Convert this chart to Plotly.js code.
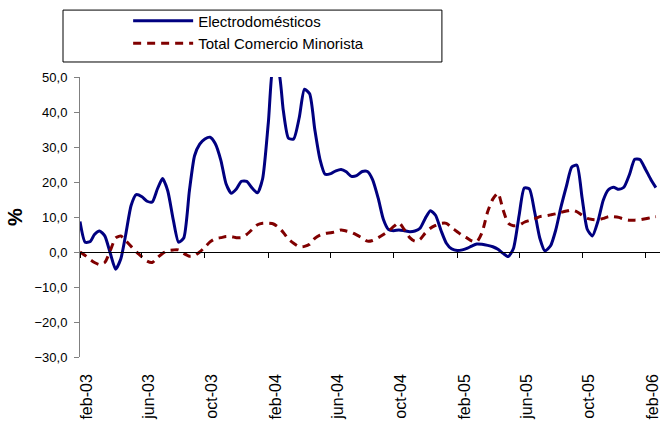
<!DOCTYPE html>
<html>
<head>
<meta charset="utf-8">
<script src="https://cdn.plot.ly/plotly-3.0.1.min.js"></script>
<style>
  html, body { margin: 0; padding: 0; background: #ffffff; }
  #chart { width: 661px; height: 421px; }
</style>
</head>
<body>
<div id="chart"></div>
<script>
// Year-on-year growth (%), sampled on the 1st, 11th and 21st of each month, Feb 2003 - Feb 2006
const sampleDays = [1, 11, 21];
const firstYear = 2003;
const firstMonth = 2;   // February
const sampleCount = 111;

const electrodomesticos = [
  8.7, 2.8, 3.0, 5.0, 6.0, 4.6, -0.5, -4.9, -2.0, 5.3,
  13.3, 16.4, 15.8, 14.5, 14.3, 18.0, 21.0, 17.5, 9.0, 2.8,
  4.0, 17.5, 27.5, 30.8, 32.3, 32.8, 31.0, 26.2, 19.5, 16.8,
  18.0, 20.2, 20.2, 18.2, 16.9, 21.0, 37.0, 53.0, 51.5, 40.4,
  32.5, 32.3, 38.5, 46.5, 45.2, 35.0, 26.5, 22.2, 22.4, 23.2,
  23.6, 22.9, 21.6, 21.8, 23.0, 23.0, 20.7, 15.3, 9.3, 6.4,
  6.1, 6.3, 6.1, 5.8, 6.0, 6.8, 9.6, 11.8, 10.5, 6.0,
  2.5, 0.9, 0.4, 0.6, 1.1, 1.7, 2.3, 2.2, 1.9, 1.5,
  0.8, -0.4, -1.3, 1.0, 10.5, 18.3, 18.0, 11.5, 4.0, 0.3,
  1.8, 6.3, 12.8, 19.0, 24.3, 24.8, 15.5, 6.5, 4.6, 8.9,
  14.8, 17.8, 18.5, 17.9, 18.5, 22.2, 26.5, 26.4, 23.6, 20.8,
  18.4
];

const totalComercioMinorista = [
  0.0, -1.0, -2.2, -3.0, -3.6, -3.0, 0.5, 4.0, 4.6, 3.2,
  1.6, 0.1, -1.4, -2.6, -3.0, -1.6, -0.4, 0.4, 0.6, 0.6,
  -0.4, -1.2, -1.0, 0.0, 1.4, 2.9, 3.8, 4.1, 4.4, 4.4,
  4.1, 4.1, 5.0, 6.5, 7.8, 8.2, 8.2, 8.0, 7.0, 5.6,
  3.7, 2.5, 1.5, 1.6, 2.2, 3.9, 4.8, 5.3, 5.5, 5.8,
  6.3, 6.0, 5.6, 4.9, 4.0, 3.1, 3.3, 4.1, 5.0, 6.0,
  7.3, 8.4, 6.5, 4.1, 3.1, 3.6, 5.4, 6.8, 7.6, 8.2,
  8.2, 7.0, 5.8, 4.7, 3.9, 3.2, 2.9, 5.5, 11.5, 15.1,
  16.8, 12.0, 8.2, 7.5, 7.7, 8.5, 9.0, 9.5, 10.1, 10.3,
  10.6, 10.9, 11.3, 11.7, 12.0, 11.5, 10.5, 9.6, 9.3, 9.2,
  9.6, 10.1, 10.1, 9.9, 9.4, 9.1, 9.1, 9.2, 9.5, 9.8,
  10.1
];

// Axis: tick marks every four months, labels in the middle of the month
const tickDates = ['2003-02-01', '2003-06-01', '2003-10-01', '2004-02-01', '2004-06-01',
                   '2004-10-01', '2005-02-01', '2005-06-01', '2005-10-01', '2006-02-01'];
const labelDates = ['2003-02-15', '2003-06-15', '2003-10-15', '2004-02-15', '2004-06-15',
                    '2004-10-15', '2005-02-15', '2005-06-15', '2005-10-15', '2006-02-15'];
const tickLabels = ['feb-03', 'jun-03', 'oct-03', 'feb-04', 'jun-04',
                    'oct-04', 'feb-05', 'jun-05', 'oct-05', 'feb-06'];

function pad(n) { return (n < 10 ? '0' : '') + n; }
const dates = [];
for (let k = 0; k < sampleCount; k++) {
  const m = firstMonth - 1 + Math.floor(k / 3);
  const y = firstYear + Math.floor(m / 12);
  dates.push(y + '-' + pad((m % 12) + 1) + '-' + pad(sampleDays[k % 3]));
}

const xRange = ['2003-02-01', '2006-03-01'];
const FONT = 'Liberation Sans, Arial, sans-serif';

const traces = [
  {
    x: dates, y: electrodomesticos, name: 'Electrodomésticos',
    type: 'scatter', mode: 'lines',
    line: { color: '#000080', width: 3, shape: 'spline', smoothing: 0.6 }
  },
  {
    x: dates, y: totalComercioMinorista, name: 'Total Comercio Minorista',
    type: 'scatter', mode: 'lines',
    line: { color: '#800000', width: 3, dash: '8px,6px', shape: 'spline', smoothing: 0.6 }
  },
  { x: [], y: [], xaxis: 'x2', showlegend: false, hoverinfo: 'skip' }
];

const layout = {
  width: 661, height: 421,
  margin: { l: 80, r: 1, t: 77, b: 64 },
  paper_bgcolor: '#ffffff', plot_bgcolor: '#ffffff',
  separators: ',.',
  font: { family: FONT, color: '#000000' },
  showlegend: true,
  legend: {
    x: 0.083, y: 1.259, xanchor: 'left', yanchor: 'top',
    bgcolor: 'rgba(0,0,0,0)', borderwidth: 0,
    itemwidth: 60,
    font: { family: FONT, size: 15, color: '#000000' }
  },
  shapes: [{
    type: 'rect', xref: 'paper', yref: 'paper',
    x0: -0.0293, x1: 0.624, y0: 1.0536, y1: 1.239,
    line: { color: '#000000', width: 1 }, fillcolor: 'rgba(0,0,0,0)'
  }],
  xaxis: {
    type: 'date', range: xRange,
    anchor: 'free', position: 0.375,
    showline: true, linecolor: '#000000', linewidth: 1,
    tickmode: 'array', tickvals: tickDates,
    ticks: 'outside', ticklen: 5, tickcolor: '#000000', tickwidth: 1,
    showticklabels: false, showgrid: false, zeroline: false
  },
  xaxis2: {
    type: 'date', range: xRange, overlaying: 'x', anchor: 'y', side: 'bottom',
    tickmode: 'array', tickvals: labelDates, ticktext: tickLabels,
    tickangle: -90, ticks: '', ticklabelstandoff: 13,
    showline: false, showgrid: false, zeroline: false,
    tickfont: { family: FONT, size: 16, color: '#000000' }
  },
  yaxis: {
    range: [-30, 50], dtick: 10, tick0: 0, tickformat: '.1f',
    showline: true, linecolor: '#808080', linewidth: 1,
    ticks: 'outside', ticklen: 5, tickcolor: '#808080',
    ticklabelstandoff: 4,
    showgrid: false, zeroline: false,
    tickfont: { family: FONT, size: 13, color: '#000000' },
    title: { text: '%', standoff: 6, font: { family: FONT, size: 20, weight: 'bold', color: '#000000' } }
  }
};

Plotly.newPlot('chart', traces, layout, { staticPlot: true, displayModeBar: false });
</script>
</body>
</html>
